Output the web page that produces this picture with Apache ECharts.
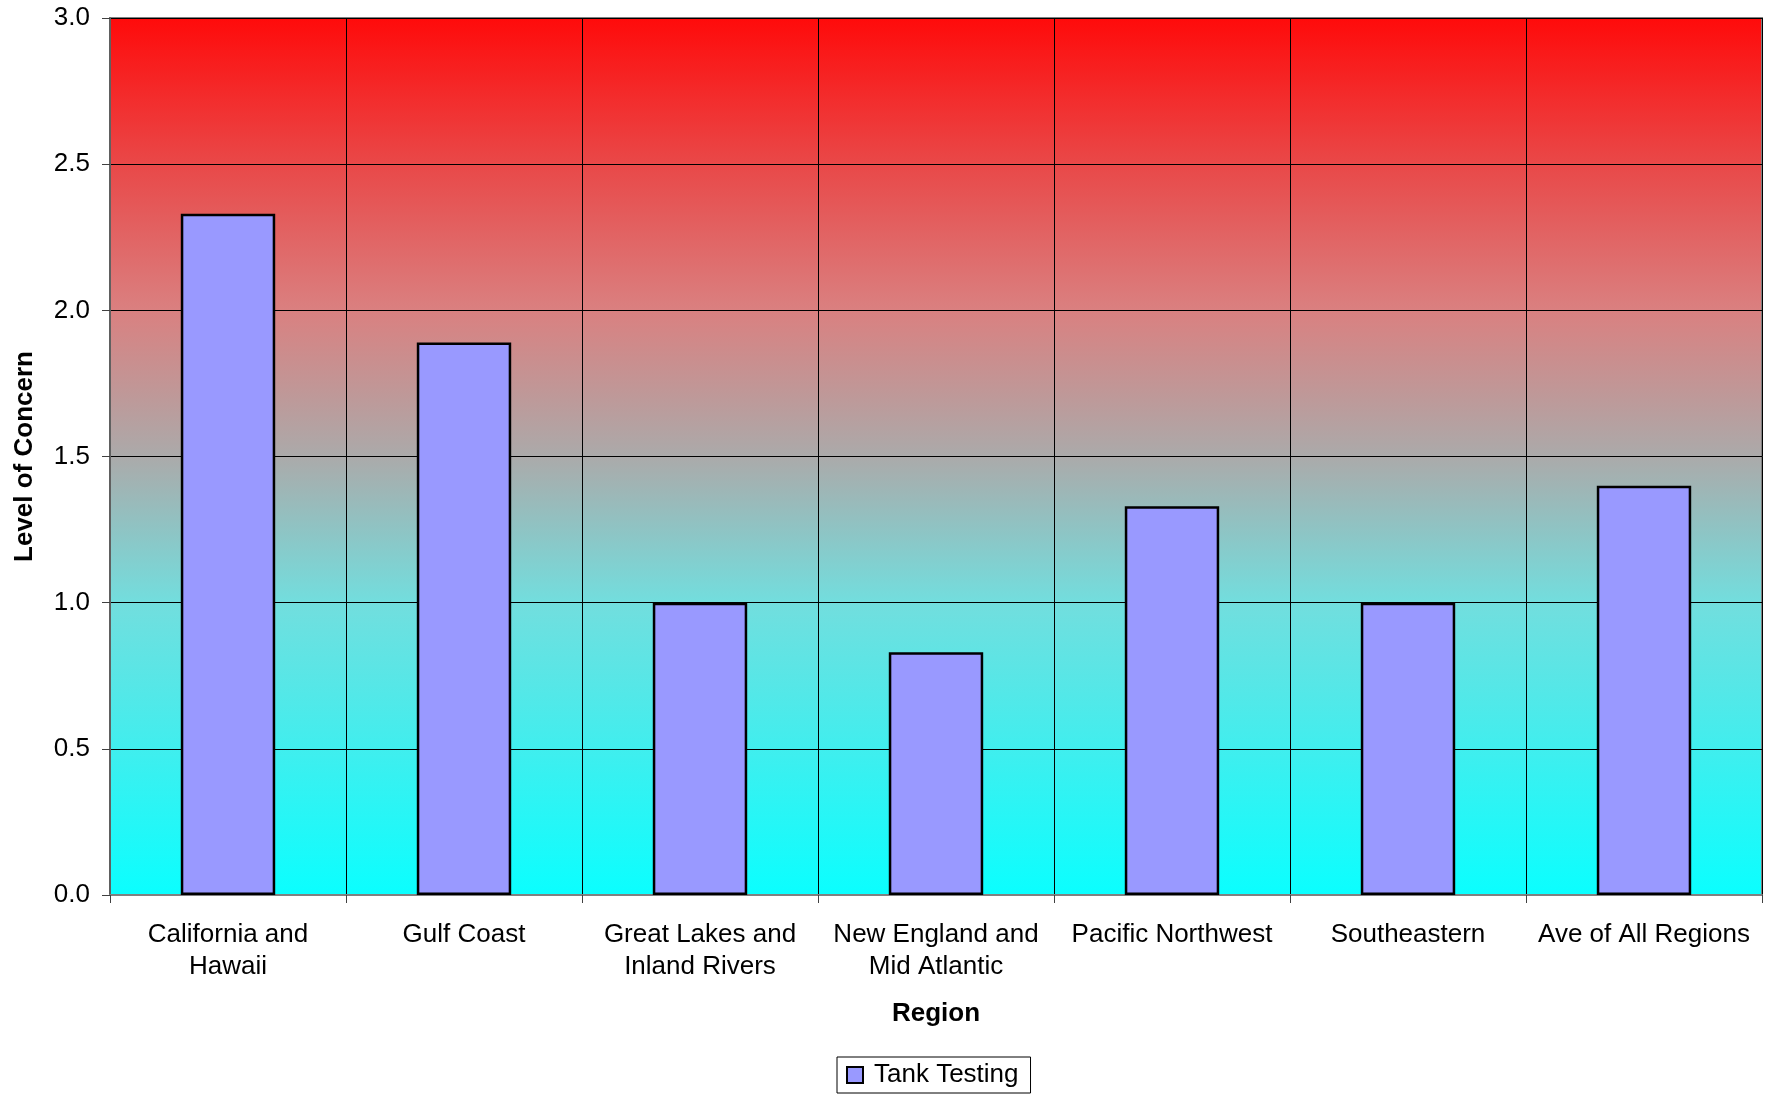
<!DOCTYPE html>
<html>
<head>
<meta charset="utf-8">
<title>Level of Concern by Region</title>
<script src="https://cdn.jsdelivr.net/npm/echarts@6/dist/echarts.min.js"></script>
<style>
  html, body { margin: 0; padding: 0; background: #fff; }
  #chart { width: 1772px; height: 1097px; }
</style>
</head>
<body>
<div id="chart"></div>
<script>
// categories and values
const regions = [
  "California and\nHawaii",
  "Gulf Coast",
  "Great Lakes and\nInland Rivers",
  "New England and\nMid Atlantic",
  "Pacific Northwest",
  "Southeastern",
  "Ave of All Regions"
]
const tankTesting = [2.33, 1.89, 1.0, 0.83, 1.33, 1.0, 1.4]
const seriesName = "Tank Testing"
const yTicks = [0, 0.5, 1.0, 1.5, 2.0, 2.5, 3.0]

const font = "Arial, 'Liberation Sans', sans-serif"

const chart = echarts.init(document.getElementById("chart"))

// red at the top fading through grey to cyan at the bottom
const plotBg = {
  type: "linear",
  x: 0, y: 0, x2: 0, y2: 1,
  colorStops: [
    { offset: 0, color: "#ff0a0a" },
    { offset: 0.167, color: "#e94848" },
    { offset: 0.333, color: "#da8080" },
    { offset: 0.5, color: "#abaaaa" },
    { offset: 0.667, color: "#72dede" },
    { offset: 0.833, color: "#40eeee" },
    { offset: 1, color: "#0affff" }
  ]
}

const option = {
  animation: false,
  textStyle: { fontFamily: font },
  grid: {
    left: 110,
    right: 10,
    top: 18,
    height: 877,
    show: true,
    backgroundColor: plotBg,
    borderColor: "#808080",
    borderWidth: 2
  },
  legend: {
    top: 1057,
    left: 837,
    data: [seriesName],
    selectedMode: false,
    icon: "rect",
    itemWidth: 16,
    itemHeight: 16,
    itemGap: 6,
    padding: [5, 12, 5, 9],
    borderColor: "#000",
    borderWidth: 1,
    textStyle: { fontSize: 26, color: "#000", fontFamily: font, padding: [0, 0, 0, 6] }
  },
  xAxis: {
    type: "category",
    data: regions,
    name: "Region",
    nameLocation: "middle",
    nameGap: 106,
    nameTextStyle: { fontSize: 26, fontWeight: "bold", color: "#000", fontFamily: font },
    axisLine: { lineStyle: { color: "#808080", width: 2 } },
    axisTick: { show: true, length: 8, lineStyle: { color: "#404040" } },
    axisLabel: {
      interval: 0,
      margin: 24,
      fontSize: 26,
      lineHeight: 32,
      color: "#000",
      fontFamily: font
    },
    splitLine: { show: true, interval: 0, lineStyle: { color: "#000", width: 1 } }
  },
  yAxis: {
    type: "value",
    min: yTicks[0],
    max: yTicks[yTicks.length - 1],
    interval: 0.5,
    name: "Level of Concern",
    nameLocation: "middle",
    nameGap: 72,
    nameTextStyle: { fontSize: 26, fontWeight: "bold", color: "#000", fontFamily: font },
    axisLine: { show: true, lineStyle: { color: "#606060", width: 2 } },
    axisTick: { show: true, length: 8, lineStyle: { color: "#404040" } },
    axisLabel: {
      margin: 20,
      fontSize: 26,
      color: "#000",
      fontFamily: font,
      formatter: (v) => v.toFixed(1)
    },
    splitLine: { show: true, lineStyle: { color: "#000", width: 1 } }
  },
  series: [
    {
      name: seriesName,
      type: "bar",
      data: tankTesting,
      barWidth: "40%",
      itemStyle: {
        color: "#9999ff",
        borderColor: "#000",
        borderWidth: 2.5
      }
    }
  ]
}

chart.setOption(option)
</script>
</body>
</html>
